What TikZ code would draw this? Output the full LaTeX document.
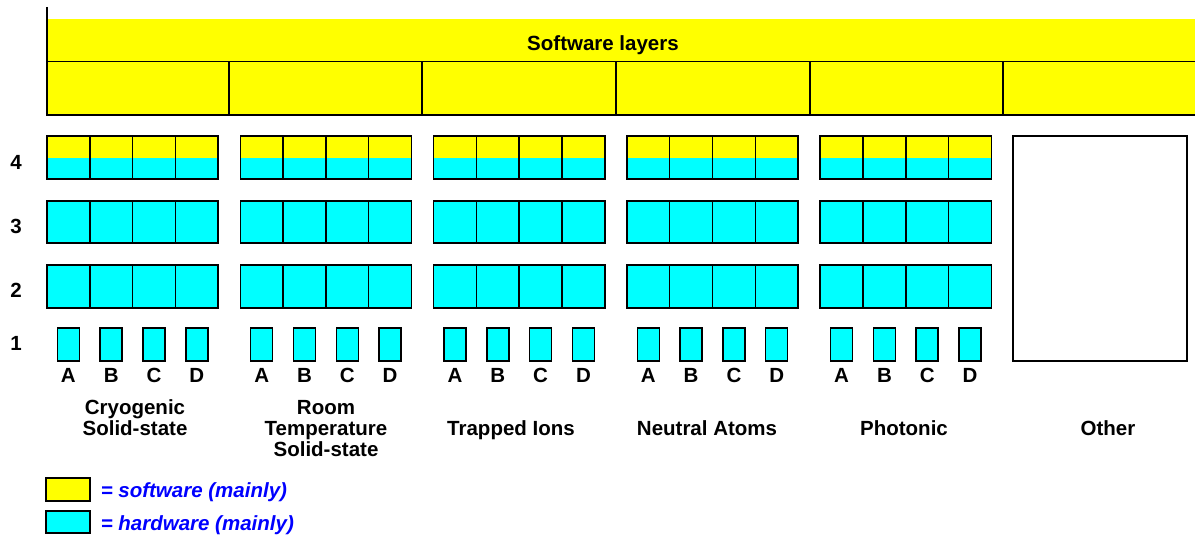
\documentclass[tikz,border=0pt]{standalone}
\usepackage{fontspec}
\setmainfont{Liberation Sans}
\usetikzlibrary{positioning}

\definecolor{swyellow}{HTML}{FFFF00}
\definecolor{hwcyan}{HTML}{00FFFF}
\definecolor{legendblue}{HTML}{0000FF}

\tikzset{
  lbl/.style={font=\fontsize{20.5}{21}\selectfont\bfseries, align=center, inner sep=0pt, anchor=base},
  legendtext/.style={font=\fontsize{20.5}{21}\selectfont\bfseries\itshape, text=legendblue, anchor=base west, inner sep=0pt},
}

\begin{document}
\begin{tikzpicture}[x=1pt, y=-1pt, line width=1.5pt]

        \useasboundingbox (0,0) rectangle (1195,535);

        % Software layers band
        \fill[swyellow] (47,19) rectangle (1195,115);
        \draw[line width=1pt] (47,62) -- (1195,62);
        \draw (47,7) -- (47,115) -- (1195,115);
        \foreach \x in {229,422,616,810,1003}
            \draw (\x,62) -- (\x,115);
        \node[lbl] (swlayers) at (603,50.5) {Software layers};

        % Layer numbers
        \node[lbl] (row4) at (16,169) {4};
        \node[lbl] (row3) at (16,233) {3};
        \node[lbl] (row2) at (16,297) {2};
        \node[lbl] (row1) at (16,350) {1};

        % Four stacks per technology, layers 4 down to 1
        \foreach \i in {0,...,4}
            \foreach \j/\c in {0/A,1/B,2/C,3/D} {
                \pgfmathsetmacro\xa{47+193.3*\i+42.8*\j}
                \pgfmathsetmacro\xb{\xa+42.8}
                \pgfmathsetmacro\xm{\xa+21.4}
                \fill[swyellow] (\xa,136) rectangle (\xb,158);
                \fill[hwcyan] (\xa,158) rectangle (\xb,179);
                \draw (\xa,136) rectangle (\xb,179);
                \draw[fill=hwcyan] (\xa,201) rectangle (\xb,243);
                \draw[fill=hwcyan] (\xa,265) rectangle (\xb,308);
                \draw[fill=hwcyan] (\xm-11,328) rectangle (\xm+11,361);
                \node[lbl] (stack-\i-\c) at (\xm,382.5) {\c};
            }

        % Other technologies
        \draw (1013,136) rectangle (1187,361);

        % base of a multi-line node sits on its last line
        \node[lbl] (cryo) at (135,435.5) {Cryogenic\\Solid-state};
        \node[lbl] (roomtemp) at (326,456.5) {Room\\Temperature\\Solid-state};
        \node[lbl] (ions) at (511,435.7) {Trapped Ions};
        \node[lbl] (atoms) at (707,435.7) {Neutral Atoms};
        \node[lbl] (photonic) at (904,435.7) {Photonic};
        \node[lbl] (other) at (1108,435.7) {Other};

        % Legend
        \draw[fill=swyellow] (46,478) rectangle (90,501);
        \draw[fill=hwcyan] (46,511) rectangle (90,533);
        \node[legendtext] (swkey) at (100,497) {= software (mainly)};
        \node[legendtext] (hwkey) at (100,530) {= hardware (mainly)};

\end{tikzpicture}
\end{document}
